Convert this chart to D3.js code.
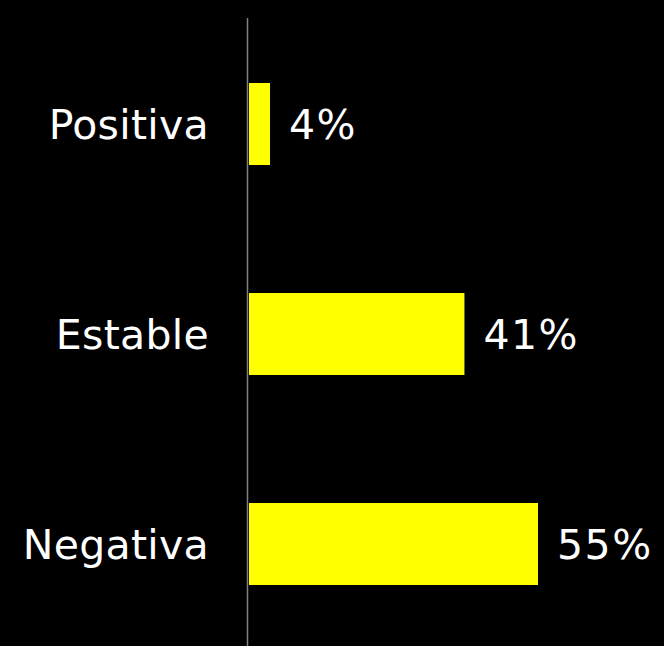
<!DOCTYPE html>
<html>
<head>
<meta charset="utf-8">
<script src="https://cdn.jsdelivr.net/npm/d3@7"></script>
<style>
html,body{margin:0;padding:0;background:#000;}
svg{display:block;}
</style>
</head>
<body>
<svg id="chart" width="664" height="646"></svg>
<script>
const categories = ["Positiva", "Estable", "Negativa"];
const values = [4, 41, 55];
const valueLabels = ["4%", "41%", "55%"];

const W = 664, H = 646;
const svg = d3.select("#chart");
svg.append("rect").attr("width", W).attr("height", H).attr("fill", "#000");

const x0 = 249;
const x = d3.scaleLinear().domain([0, 55]).range([x0, x0 + 289]);
const y = d3.scaleBand().domain(categories).range([18, 650])
  .paddingInner(128 / 210).paddingOuter(65 / 210);

const font = "'DejaVu Sans', Verdana, sans-serif";

svg.selectAll("rect.bar").data(values).enter().append("rect")
  .attr("class", "bar")
  .attr("x", x(0))
  .attr("y", (d, i) => y(categories[i]))
  .attr("width", d => x(d) - x(0))
  .attr("height", y.bandwidth())
  .attr("fill", "#ffff00");

svg.append("line")
  .attr("x1", 247.5).attr("x2", 247.5)
  .attr("y1", 18).attr("y2", H)
  .attr("stroke", "#808080").attr("stroke-width", 1.5);

svg.selectAll("text.cat").data(categories).enter().append("text")
  .attr("class", "cat")
  .attr("x", 209)
  .attr("y", d => y(d) + y.bandwidth() / 2 + 15)
  .attr("text-anchor", "end")
  .attr("fill", "#fff")
  .attr("font-family", font)
  .attr("font-size", 41)
  .attr("letter-spacing", 0.3)
  .text(d => d);

svg.selectAll("text.val").data(values).enter().append("text")
  .attr("class", "val")
  .attr("x", d => x(d) + 19)
  .attr("y", (d, i) => y(categories[i]) + y.bandwidth() / 2 + 15)
  .attr("fill", "#fff")
  .attr("font-family", font)
  .attr("font-size", 41)
  .attr("letter-spacing", 1.5)
  .text((d, i) => valueLabels[i]);
</script>
</body>
</html>
